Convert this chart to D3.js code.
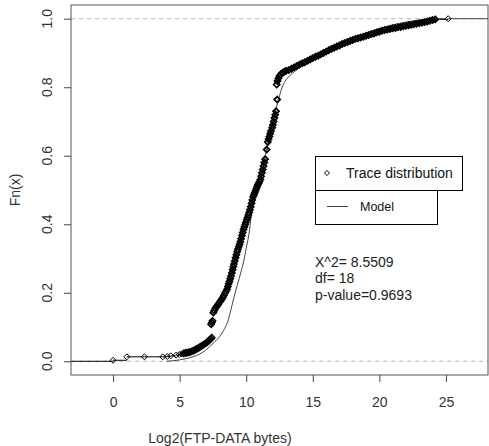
<!DOCTYPE html>
<html><head><meta charset="utf-8">
<script src="https://cdn.jsdelivr.net/npm/d3@7"></script>
<style>body{margin:0;background:#fff}svg{display:block}text{font-family:"Liberation Sans",Arial,sans-serif}</style>
</head><body>
<script>
// ---- data ----
const xTicks = [0, 5, 10, 15, 20, 25];
const yTicks = [0, 0.2, 0.4, 0.6, 0.8, 1.0];
const xLabel = "Log2(FTP-DATA bytes)";
const yLabel = "Fn(x)";
const legendLabels = ["Trace distribution", "Model"];
const statLines = ["X^2= 8.5509", "df= 18", "p-value=0.9693"];

// Trace distribution (empirical CDF points): x = log2 bytes, F = Fn(x)
const traceX = [
 0.00,1.03,2.35,3.73,4.07,4.33,4.73,4.98,5.16,
 5.30,5.42,5.54,5.66,5.78,5.90,6.02,6.14,6.26,6.38,6.50,6.62,6.74,6.86,6.98,7.10,7.22,7.32,7.41,
 7.36,7.42,7.47,
 7.53,7.60,7.68,7.76,7.84,7.91,8.00,8.08,8.16,8.24,8.32,8.41,8.48,8.56,8.62,8.68,8.74,8.80,8.86,8.92,8.98,
 9.03,9.08,9.14,9.20,9.26,9.32,9.38,9.44,9.50,9.56,9.62,9.68,9.74,9.80,9.86,9.92,9.98,
 10.04,10.10,10.16,10.22,10.28,10.34,10.40,10.46,10.52,10.58,10.64,10.70,10.76,10.82,10.88,10.94,
 11.00,11.06,11.12,11.18,11.24,11.30,11.36,11.42,
 11.54,11.62,11.68,11.74,11.80,11.86,11.95,12.00,12.06,12.12,12.18,12.24,12.33,
 12.29,12.35,12.42,12.50,12.60,12.72,12.85,13.00,
 13.2,13.4,13.6,13.8,14.0,14.2,14.4,14.6,14.8,15.0,15.2,15.4,15.6,15.8,16.0,16.2,16.4,16.6,16.8,
 17.0,17.2,17.4,17.6,17.8,18.0,18.2,18.4,18.6,18.8,19.0,19.2,19.4,19.6,19.8,20.0,20.2,20.4,20.6,20.8,
 21.0,21.2,21.4,21.6,21.8,22.0,22.2,22.4,22.6,22.8,23.0,23.2,23.4,23.6,23.8,24.0,24.2,25.17];
const traceF = [
 0.003,0.013,0.013,0.013,0.014,0.016,0.018,0.020,0.022,
 0.023,0.024,0.025,0.026,0.027,0.029,0.031,0.033,0.036,0.038,0.041,0.044,0.047,0.050,0.053,0.057,0.061,0.065,0.069,
 0.108,0.113,0.118,
 0.142,0.148,0.154,0.159,0.163,0.167,0.172,0.177,0.181,0.186,0.192,0.199,0.204,0.210,0.218,0.226,0.233,0.241,0.249,0.258,0.267,
 0.276,0.284,0.293,0.302,0.311,0.320,0.327,0.334,0.341,0.349,0.358,0.367,0.376,0.385,0.392,0.399,0.406,
 0.413,0.420,0.427,0.434,0.442,0.451,0.461,0.471,0.480,0.486,0.492,0.498,0.504,0.510,0.515,0.520,
 0.525,0.531,0.540,0.550,0.560,0.570,0.580,0.590,
 0.618,0.640,0.648,0.656,0.664,0.672,0.682,0.690,0.700,0.710,0.720,0.730,0.764,
 0.808,0.818,0.826,0.833,0.838,0.842,0.845,0.848,
 0.850,0.854,0.858,0.862,0.866,0.870,0.873,0.877,0.881,0.885,0.889,0.892,0.896,0.900,0.904,0.908,0.912,0.915,0.919,
 0.922,0.926,0.929,0.932,0.935,0.938,0.941,0.943,0.945,0.947,0.950,0.952,0.955,0.957,0.960,0.962,0.965,0.967,0.968,0.970,
 0.972,0.973,0.975,0.976,0.978,0.979,0.981,0.982,0.984,0.985,0.987,0.988,0.990,0.992,0.994,0.996,0.998,1.000];

// Model CDF
const modelX = [4.0,5.0,5.5,6.0,6.5,7.0,7.5,8.0,8.3,8.6,8.85,9.1,9.35,9.6,9.8,10.0,10.2,10.4,10.6,10.8,11.0,11.3,11.6,11.9,12.2,12.5,12.7,13.0,13.3,13.7,14.2,15.0,16.0,17.0,18.0,19.0,20.0,21.0,22.0,23.0,24.0,25.0];
const modelF = [0.000,0.004,0.008,0.013,0.021,0.034,0.052,0.072,0.090,0.115,0.150,0.190,0.225,0.260,0.290,0.330,0.370,0.430,0.475,0.505,0.528,0.575,0.630,0.680,0.730,0.775,0.800,0.822,0.835,0.848,0.862,0.882,0.905,0.926,0.944,0.959,0.971,0.982,0.990,0.996,0.999,1.000];

// ---- drawing ----
const W = 489, H = 446;
const svg = d3.select("body").append("svg").attr("width", W).attr("height", H);
svg.append("rect").attr("width", W).attr("height", H).attr("fill", "#fff");

const x = d3.scaleLinear().domain([-3.16, 28.16]).range([71, 488]);
const y = d3.scaleLinear().domain([-0.04, 1.04]).range([375, 5]);
const txt = "#333";

// reference dashed lines at 0 and 1
svg.selectAll("line.ref").data([0, 1]).join("line")
  .attr("x1", x.range()[0]).attr("x2", x.range()[1])
  .attr("y1", d => y(d)).attr("y2", d => y(d))
  .attr("stroke", "#b3b3b3").attr("stroke-dasharray", "4,4");

const pts = traceX.map((v, i) => ({x: v, f: traceF[i]}));
const sorted = pts.slice().sort((a, b) => a.x - b.x);

// step segments of the ECDF
const g = svg.append("g");
g.append("line").attr("x1", x.range()[0]).attr("x2", x(sorted[0].x))
  .attr("y1", y(0)).attr("y2", y(0)).attr("stroke", "#000");
for (let i = 0; i < sorted.length - 1; i++) {
  g.append("line").attr("x1", x(sorted[i].x)).attr("x2", x(sorted[i + 1].x))
    .attr("y1", y(sorted[i].f)).attr("y2", y(sorted[i].f)).attr("stroke", "#000");
}
const last = sorted[sorted.length - 1];
g.append("line").attr("x1", x(last.x)).attr("x2", x.range()[1])
  .attr("y1", y(last.f)).attr("y2", y(last.f)).attr("stroke", "#444");

// model curve
const line = d3.line().x((d, i) => x(modelX[i])).y((d, i) => y(modelF[i])).curve(d3.curveMonotoneX);
svg.append("path").attr("d", line(modelX)).attr("fill", "none").attr("stroke", "#444").attr("stroke-width", 1);

// diamonds (sparse ones thin, dense band heavier as overlapping in the original)
const dia = "M0,-3L3,0L0,3L-3,0Z";
svg.append("g").selectAll("path").data(pts).join("path")
  .attr("d", dia).attr("transform", d => `translate(${x(d.x)},${y(d.f)})`)
  .attr("fill", "none").attr("stroke", "#000")
  .attr("stroke-width", (d, i) => (i < 9 || i === pts.length - 1) ? 1 : 1.7);

// frame
svg.append("rect").attr("x", 71).attr("y", 5).attr("width", 417).attr("height", 370)
  .attr("fill", "none").attr("stroke", "#555");

// x axis
const xa = svg.append("g").attr("transform", "translate(0,375)")
  .call(d3.axisBottom(x).tickValues(xTicks).tickSize(7).tickPadding(15).tickFormat(d3.format("d")));
xa.select(".domain").remove();
xa.selectAll("line").attr("stroke", "#444");
xa.selectAll("text").attr("font-size", 14).attr("fill", txt).attr("font-family", '"Liberation Sans",Arial,sans-serif');

// y axis
const ya = svg.append("g").attr("transform", "translate(71,0)")
  .call(d3.axisLeft(y).tickValues(yTicks).tickSize(7).tickFormat(d3.format(".1f")));
ya.select(".domain").remove();
ya.selectAll("line").attr("stroke", "#444");
ya.selectAll("text").remove();
svg.append("g").selectAll("text").data(yTicks).join("text")
  .attr("transform", d => `translate(52,${y(d)}) rotate(-90)`)
  .attr("text-anchor", "middle").attr("font-size", 14).attr("fill", txt)
  .text(d3.format(".1f"));

// axis titles
svg.append("text").attr("x", 220).attr("y", 443).attr("text-anchor", "middle")
  .attr("font-size", 14).attr("fill", txt).text(xLabel);
svg.append("text").attr("transform", "translate(20,190) rotate(-90)").attr("text-anchor", "middle")
  .attr("font-size", 14).attr("fill", txt).text(yLabel);

// legend
svg.append("rect").attr("x", 315.5).attr("y", 156.5).attr("width", 147).attr("height", 34)
  .attr("fill", "#fff").attr("stroke", "#000");
svg.append("path").attr("d", "M0,-2.5L2.5,0L0,2.5L-2.5,0Z").attr("transform", "translate(327,173)")
  .attr("fill", "none").attr("stroke", "#000");
svg.append("text").attr("x", 346).attr("y", 178).attr("font-size", 14).attr("fill", "#111").text(legendLabels[0]);
svg.append("rect").attr("x", 315.5).attr("y", 190.5).attr("width", 122).attr("height", 34)
  .attr("fill", "#fff").attr("stroke", "#000");
svg.append("line").attr("x1", 327).attr("x2", 348).attr("y1", 206.5).attr("y2", 206.5).attr("stroke", "#444");
svg.append("text").attr("x", 360).attr("y", 210.5).attr("font-size", 12.5)
  .attr("font-family", '"Liberation Serif","Times New Roman",serif').attr("fill", "#111").text(legendLabels[1]);

// statistics
svg.append("g").selectAll("text").data(statLines).join("text")
  .attr("x", 315).attr("y", (d, i) => 267 + i * 16.3).attr("font-size", 14).attr("fill", "#222").text(d => d);
</script>
</body></html>
